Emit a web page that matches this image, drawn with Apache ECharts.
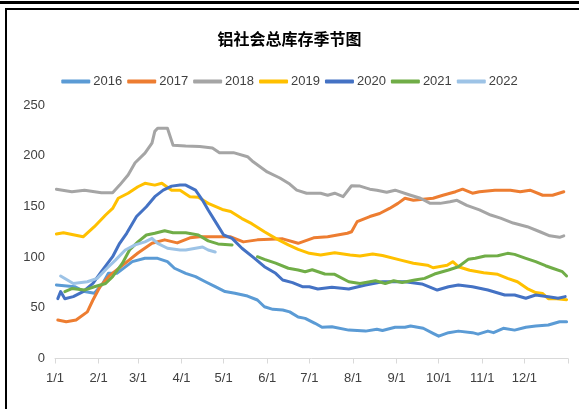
<!DOCTYPE html>
<html>
<head>
<meta charset="utf-8">
<script src="https://cdn.jsdelivr.net/npm/echarts@6/dist/echarts.min.js"></script>
<style>
  html, body { margin: 0; padding: 0; background: #fff; }
  #chart { width: 579px; height: 409px; }
</style>
</head>
<body>
<div id="chart"></div>
<script>
// x = day of year, y = stock (10k t)
const monthStarts = [0, 31, 59, 90, 120, 151, 181, 212, 243, 273, 304, 334];
const monthLabels = ["1/1", "2/1", "3/1", "4/1", "5/1", "6/1", "7/1", "8/1", "9/1", "10/1", "11/1", "12/1"];
const yearNames = ["2016", "2017", "2018", "2019", "2020", "2021", "2022"];

const data2016 = [[1,72.5],[14,70.8],[21,66],[28,64.3],[34,74],[38,84],[44,84],[55,95.5],[64,98.8],[73,98.8],[80,95.5],[85,89],[93,84],[100,80.7],[107,75.7],[114,70.8],[121,66],[128,64.3],[137,61.6],[144,57.7],[149,51],[155,48.5],[162,47.8],[167,46],[173,41],[178,39.6],[185,34.7],[190,30.8],[197,31.4],[209,28],[221,27],[229,28.8],[233,27.6],[242,30.8],[249,30.8],[253,32],[262,29.8],[269,24.8],[273,22],[280,25.5],[287,27],[297,25.5],[301,24],[308,27],[312,25.5],[319,29.8],[327,28],[335,30.8],[342,32],[351,33],[359,36.3],[364,36.3]];
const data2017 = [[2,38],[8,36.3],[15,38],[23,46],[27,57.7],[32,70.8],[39,82],[50,94],[59,104],[69,113.6],[78,117],[87,114],[96,119],[103,120],[125,120],[134,115],[144,117],[162,118],[173,113.6],[184,119],[194,120],[208,123.5],[211,125],[215,135],[224,140],[231,143],[238,148],[244,153],[249,158],[255,156],[269,158],[276,161],[285,164.5],[290,167],[297,163],[302,164.5],[313,166],[324,166],[331,164.5],[338,166],[347,161],[354,161],[362,164.5]];
const data2018 = [[1,167],[12,164.5],[21,166],[33,163.5],[41,163.5],[46,171],[52,181],[57,193],[64,202.6],[69,212.5],[71,224],[73,227],[80,227],[84,210.4],[93,209.5],[103,209],[112,207.6],[117,203],[127,203],[137,199],[141,194],[151,184],[160,178],[167,172],[172,166],[179,163],[189,163],[190,164.5],[194,161],[199,163],[205,159.6],[211,170.4],[217,170],[224,167],[229,166],[236,164],[242,166],[253,161],[260,158],[267,153],[274,153],[281,154.6],[286,156],[293,151],[302,146.5],[310,141.5],[317,138.5],[326,133.6],[336,130],[345,125],[352,121],[359,119.5],[362,121]];
const data2019 = [[1,122.8],[6,124],[20,120],[28,130],[36,141.5],[41,148],[45,158],[52,163],[59,169.4],[64,172.8],[71,171],[76,172.8],[83,166],[89,166],[96,159.6],[102,159],[109,153],[119,147],[125,145],[133,138],[140,133],[149,125],[157,118.5],[166,112],[173,107.7],[181,103.7],[189,102],[199,104.3],[210,102],[217,101],[226,103],[233,101.5],[246,97],[255,94],[265,92],[269,89.5],[279,92],[283,95.5],[287,90.5],[295,87],[305,84.6],[315,83],[322,79],[329,75.7],[336,69],[342,65],[347,64],[351,59],[357,59],[364,58]];
const data2020 = [[2,59],[4,66],[7,59],[13,61],[20,66],[27,74],[33,85.6],[41,100.4],[46,113.6],[51,123.5],[58,140],[65,149.7],[71,159.6],[77,166],[83,170],[89,171],[93,171],[100,166],[105,156],[109,146.4],[115,133],[120,121.8],[126,118.5],[133,108.7],[142,98.8],[149,90.5],[157,84],[162,77.4],[169,74.8],[176,70.8],[181,70.8],[187,68.5],[197,70.2],[209,68.5],[221,72.5],[233,75.7],[249,75.7],[261,73.5],[272,67.5],[280,70.8],[287,72.5],[297,70.8],[308,67.5],[320,62.6],[327,62.6],[335,59.4],[342,62.6],[351,61],[358,59.4],[363,61]];
const data2021 = [[7,66],[12,69],[21,67.5],[28,70.8],[36,74],[41,80.7],[48,94],[53,107],[59,115],[65,121.8],[71,123.5],[78,126],[84,124],[93,124],[102,121.8],[109,116],[116,113],[126,112],[135,null],[144,100.4],[149,97.8],[157,94],[166,89],[173,87.3],[178,85.6],[183,87.5],[192,83.3],[199,83],[209,75.7],[217,74],[228,76.7],[235,74],[241,76.7],[247,75],[256,77.4],[263,79],[270,83.3],[280,87.3],[287,90.5],[294,97.8],[299,98.8],[306,101],[315,101.3],[322,103.7],[327,102.7],[335,98.8],[342,95.5],[349,91.5],[354,89],[361,85.6],[364,81.4]];
const data2022 = [[4,81.4],[13,74],[23,75.7],[30,79],[37,89],[43,97],[50,107],[57,112],[64,115],[69,118.5],[73,113.6],[80,108.7],[89,107],[93,107],[100,108.7],[105,110],[109,107],[114,105]];

const allData = [data2016, data2017, data2018, data2019, data2020, data2021, data2022];
const colors = ["#5B9BD5", "#ED7D31", "#A5A5A5", "#FFC000", "#4472C4", "#70AD47", "#9DC3E6"];

const chart = echarts.init(document.getElementById("chart"));
const numFont = "'Liberation Sans', Arial, sans-serif";

chart.setOption({
  backgroundColor: "#fff",
  animation: false,
  color: colors,
  title: {
    text: "铝社会总库存季节图",
    left: "center",
    top: 26,
    textStyle: { fontFamily: "'Noto Sans CJK SC', sans-serif", fontSize: 16, fontWeight: "bold", color: "#000" }
  },
  legend: {
    top: 70,
    left: "center",
    itemWidth: 29,
    itemHeight: 4,
    itemGap: 5,
    icon: "roundRect",
    textStyle: { fontFamily: numFont, fontSize: 13, color: "#404040", padding: [0, 0, 0, -2] },
    data: yearNames
  },
  grid: { left: 55, right: 11, top: 105, bottom: 50.5 },
  xAxis: {
    type: "value",
    min: 0,
    max: 365,
    axisLine: { show: true, lineStyle: { color: "#D9D9D9", width: 1 } },
    axisTick: { show: true, length: 5, lineStyle: { color: "#D9D9D9" }, customValues: monthStarts.concat([365]) },
    axisLabel: {
      customValues: monthStarts,
      margin: 13,
      fontFamily: numFont,
      fontSize: 13,
      color: "#404040",
      formatter: (v) => monthLabels[monthStarts.indexOf(v)] || ""
    },
    splitLine: { show: false }
  },
  yAxis: {
    type: "value",
    min: 0,
    max: 250,
    interval: 50,
    axisLine: { show: false },
    axisTick: { show: false },
    axisLabel: { margin: 10, fontFamily: numFont, fontSize: 13, color: "#404040" },
    splitLine: { show: false }
  },
  graphic: [
    { type: "rect", shape: { x: 0, y: 1, width: 579, height: 3 }, style: { fill: "#000" } },
    { type: "rect", shape: { x: 5, y: 8, width: 574, height: 2 }, style: { fill: "#000" } },
    { type: "rect", shape: { x: 5, y: 8, width: 2, height: 401 }, style: { fill: "#000" } }
  ],
  series: yearNames.map((name, i) => ({
    name: name,
    type: "line",
    data: allData[i],
    showSymbol: false,
    symbol: "none",
    connectNulls: false,
    lineStyle: { width: 3, color: colors[i], cap: "round", join: "round" },
    itemStyle: { color: colors[i] }
  }))
});
</script>
</body>
</html>
